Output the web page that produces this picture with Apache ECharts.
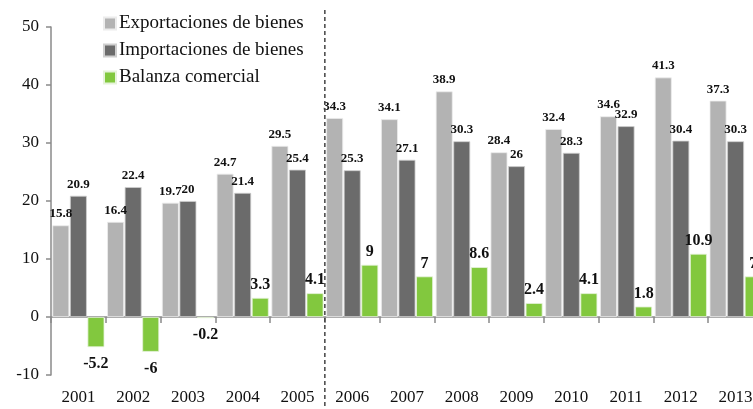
<!DOCTYPE html>
<html>
<head>
<meta charset="utf-8">
<script src="https://cdn.jsdelivr.net/npm/echarts@6/dist/echarts.min.js"></script>
<style>
  html, body { margin: 0; padding: 0; background: #fff; }
  #chart { width: 753px; height: 409px; }
</style>
</head>
<body>
<div id="chart"></div>
<script>
const years = ['2001', '2002', '2003', '2004', '2005', '2006', '2007', '2008', '2009', '2010', '2011', '2012', '2013'];
const exportsValues = [15.8, 16.4, 19.7, 24.7, 29.5, 34.3, 34.1, 38.9, 28.4, 32.4, 34.6, 41.3, 37.3];
const importsValues = [20.9, 22.4, 20, 21.4, 25.4, 25.3, 27.1, 30.3, 26, 28.3, 32.9, 30.4, 30.3];
const balanceValues = [-5.2, -6, -0.2, 3.3, 4.1, 9, 7, 8.6, 2.4, 4.1, 1.8, 10.9, 7];
const yTicks = [-10, 0, 10, 20, 30, 40, 50];

const serif = '"Liberation Serif", "DejaVu Serif", serif';

const chart = echarts.init(document.getElementById('chart'));

const smallLabel = {
  show: true,
  position: 'top',
  distance: 5,
  fontFamily: serif,
  fontWeight: 'bold',
  fontSize: 13,
  color: '#111'
};

chart.setOption({
  animation: false,
  grid: { left: 51, top: 27, bottom: 34, width: 712, outerBoundsMode: 'none', containLabel: false },
  legend: {
    orient: 'vertical',
    left: 98,
    top: 9,
    itemWidth: 12,
    itemHeight: 12,
    itemGap: 8,
    icon: 'rect',
    textStyle: { fontFamily: serif, fontSize: 19, color: '#111', padding: [0, 0, 0, -2] },
    data: ['Exportaciones de bienes', 'Importaciones de bienes', 'Balanza comercial']
  },
  xAxis: [
    {
      // axis line and ticks sitting on zero
      type: 'category',
      data: years,
      axisLine: { onZero: true, lineStyle: { color: '#8a8a8a', width: 1.5 } },
      axisTick: { show: true, length: 6, lineStyle: { color: '#8a8a8a', width: 1.5 } },
      axisLabel: { show: false },
      splitLine: { show: false }
    },
    {
      // year labels at the bottom
      type: 'category',
      data: years,
      position: 'bottom',
      axisLine: { show: false, onZero: false },
      axisTick: { show: false },
      axisLabel: {
        margin: 14,
        fontFamily: serif,
        fontSize: 17,
        color: '#111',
        interval: 0
      },
      splitLine: { show: false }
    }
  ],
  yAxis: {
    type: 'value',
    min: yTicks[0],
    max: yTicks[yTicks.length - 1],
    interval: 10,
    axisLine: { show: true, lineStyle: { color: '#8a8a8a', width: 1.5 } },
    axisTick: { show: true, length: 5, lineStyle: { color: '#8a8a8a', width: 1.5 } },
    axisLabel: { margin: 12, fontFamily: serif, fontSize: 17, color: '#111' },
    splitLine: { show: false }
  },
  series: [
    {
      name: 'Exportaciones de bienes',
      type: 'bar',
      data: exportsValues,
      barGap: '4%',
      barCategoryGap: '5%',
      itemStyle: { color: '#b3b3b3', borderColor: '#ececec', borderWidth: 0.8 },
      label: smallLabel
    },
    {
      name: 'Importaciones de bienes',
      type: 'bar',
      data: importsValues,
      barGap: '4%',
      barCategoryGap: '5%',
      itemStyle: { color: '#6b6b6b', borderColor: '#cfcfcf', borderWidth: 0.8 },
      label: smallLabel
    },
    {
      name: 'Balanza comercial',
      type: 'bar',
      data: balanceValues.map(v => ({
        value: v,
        label: { position: v < 0 ? 'bottom' : 'top', distance: v < 0 ? 9 : 5 }
      })),
      barGap: '4%',
      barCategoryGap: '5%',
      itemStyle: { color: '#82c83e', borderColor: '#e6f3da', borderWidth: 0.8 },
      label: {
        show: true,
        fontFamily: serif,
        fontWeight: 'bold',
        fontSize: 16,
        color: '#111'
      }
    }
  ]
});

// dashed separator between 2005 and 2006
const a = chart.convertToPixel({ xAxisIndex: 0 }, years[4]);
const b = chart.convertToPixel({ xAxisIndex: 0 }, years[5]);
const sepX = (a + b) / 2;
chart.setOption({
  graphic: [{
    type: 'line',
    shape: { x1: sepX, y1: 10, x2: sepX, y2: 409 },
    style: { stroke: '#444', lineWidth: 1.5, lineDash: [4, 3] },
    z: 10
  }]
});
</script>
</body>
</html>
